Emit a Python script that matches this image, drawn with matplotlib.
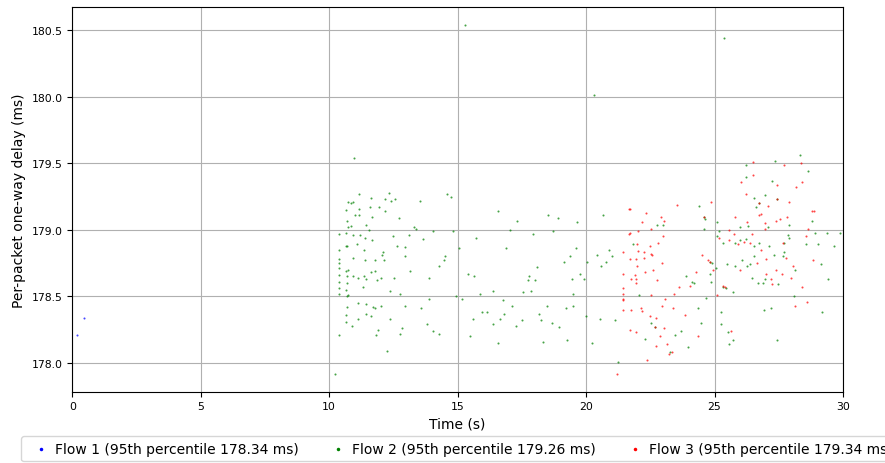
import matplotlib
matplotlib.use("Agg")
import matplotlib.pyplot as plt
import numpy as np

# ---------------- data ----------------
flow1_time = [0.18, 0.44]
flow1_delay = [178.21, 178.34]

flow2_time = [
    10.95, 11.16, 12.31, 14.58, 14.74, 11.64, 12.16, 12.42, 12.55, 13.55,
    10.74, 10.86, 10.92, 10.64, 11.16, 11.57, 11.92, 12.16, 10.99, 11.16,
    11.68, 12.70, 10.70, 11.44, 10.74, 10.86, 13.32, 13.38, 11.55, 14.03,
    14.81, 10.40, 10.64, 10.92, 11.18, 11.38, 12.48, 13.09, 13.64, 11.68,
    10.64, 10.70, 11.09, 12.64, 12.97, 15.71, 15.04, 10.40, 11.34, 12.09,
    12.05, 14.52, 10.92, 10.40, 11.38, 11.77, 12.12, 12.97, 14.48, 10.40,
    10.40, 14.26, 10.73, 10.64, 11.77, 11.64, 13.16, 10.40, 10.92, 10.70,
    11.12, 11.35, 11.42, 12.03, 12.51, 11.87, 13.87, 15.39, 15.65, 10.40,
    10.70, 11.31, 10.40, 10.66, 10.40, 10.70, 10.74, 12.35, 12.74, 13.87,
    15.17, 15.87, 16.39, 11.12, 11.42, 10.70, 11.70, 11.79, 12.00, 12.94,
    13.57, 10.66, 11.42, 11.61, 11.14, 12.38, 10.66, 10.90, 13.81, 15.94,
    16.13, 15.61, 16.36, 11.90, 12.84, 14.06, 14.29, 12.77, 11.83, 10.40,
    15.48, 16.58, 12.26, 14.94,
    16.59, 17.32, 18.53, 18.91, 19.66, 20.66, 17.04, 17.95, 18.73, 16.89,
    19.60, 20.43, 19.38, 19.14, 20.05, 20.77, 20.57, 18.09, 19.77, 17.78,
    19.44, 19.90, 17.73, 18.02, 17.56, 17.86, 19.51, 16.78, 17.11, 18.47,
    19.49, 19.21, 18.17, 16.82, 16.65, 17.51, 18.25, 18.69, 18.95, 17.26,
    20.00, 20.53, 18.31, 19.27, 20.22,
    28.33, 27.36, 26.23, 28.62, 26.23, 27.23, 26.97, 26.54, 26.74, 26.62,
    27.43, 24.39, 24.60, 24.62, 25.09, 22.78, 23.00, 27.88, 28.79, 26.00,
    26.31, 24.60, 27.10, 25.17, 28.92, 29.37, 29.88, 27.87, 27.91, 25.10,
    26.00, 25.80, 26.23, 25.34, 26.52, 26.74, 27.14, 27.70, 28.57, 29.01,
    29.66, 21.84, 20.89, 20.99, 26.52, 27.32, 27.71, 27.65, 24.81, 24.91,
    25.04, 26.08, 25.48, 25.80, 26.28, 26.40, 28.14, 29.14, 23.90, 24.13,
    24.20, 24.81, 24.88, 26.47, 26.97, 26.69, 26.88, 27.46, 25.34, 25.43,
    25.71, 29.42, 22.07, 24.68, 28.10, 21.12, 24.36, 24.46, 25.26, 25.27,
    26.91, 27.19, 29.20, 22.51, 22.70, 23.68, 23.46, 22.29, 25.54, 25.56,
    25.71, 27.43, 23.96, 23.25, 21.23,
    10.22, 15.29, 20.32, 25.37,
]
flow2_delay = [
    179.54, 179.27, 179.28, 179.27, 179.25, 179.24, 179.23, 179.22, 179.23, 179.22,
    179.21, 179.20, 179.21, 179.15, 179.16, 179.17, 179.17, 179.14, 179.11, 179.11,
    179.10, 179.09, 179.07, 179.04, 179.02, 179.03, 179.02, 179.01, 179.00, 178.99,
    178.99, 178.97, 178.98, 178.96, 178.96, 178.94, 178.95, 178.96, 178.93, 178.92,
    178.88, 178.88, 178.89, 178.88, 178.87, 178.94, 178.86, 178.85, 178.85, 178.83,
    178.81, 178.80, 178.79, 178.78, 178.77, 178.77, 178.77, 178.80, 178.77, 178.75,
    178.71, 178.73, 178.70, 178.69, 178.69, 178.68, 178.69, 178.66, 178.65, 178.65,
    178.64, 178.65, 178.63, 178.64, 178.64, 178.62, 178.64, 178.67, 178.65, 178.61,
    178.60, 178.57, 178.56, 178.55, 178.52, 178.50, 178.51, 178.54, 178.52, 178.48,
    178.48, 178.52, 178.54, 178.45, 178.44, 178.42, 178.42, 178.41, 178.43, 178.43,
    178.41, 178.36, 178.37, 178.35, 178.33, 178.33, 178.31, 178.28, 178.29, 178.38,
    178.38, 178.33, 178.29, 178.25, 178.26, 178.24, 178.22, 178.22, 178.21, 178.21,
    178.20, 178.15, 178.09, 178.50,
    179.14, 179.07, 179.11, 179.09, 179.06, 179.11, 179.00, 178.97, 178.99, 178.86,
    178.86, 178.81, 178.80, 178.76, 178.76, 178.76, 178.73, 178.72, 178.67, 178.65,
    178.63, 178.63, 178.62, 178.62, 178.53, 178.54, 178.52, 178.47, 178.43, 178.43,
    178.43, 178.41, 178.37, 178.37, 178.33, 178.32, 178.32, 178.30, 178.27, 178.28,
    178.35, 178.33, 178.16, 178.17, 178.15,
    179.56, 179.52, 179.49, 179.44, 179.40, 179.37, 179.26, 179.24, 179.20, 179.17,
    179.23, 179.18, 179.10, 179.08, 179.06, 179.04, 179.04, 179.04, 179.07, 179.02,
    179.03, 179.01, 179.02, 178.99, 178.98, 178.98, 178.98, 178.96, 178.94, 178.95,
    178.92, 178.90, 178.93, 178.90, 178.88, 178.90, 178.88, 178.90, 178.89, 178.89,
    178.88, 178.89, 178.85, 178.80, 178.80, 178.81, 178.83, 178.80, 178.76, 178.75,
    178.71, 178.77, 178.74, 178.73, 178.73, 178.74, 178.70, 178.74, 178.65, 178.61,
    178.60, 178.67, 178.61, 178.64, 178.63, 178.60, 178.60, 178.59, 178.57, 178.56,
    178.53, 178.63, 178.51, 178.49, 178.50, 178.32, 178.41, 178.30, 178.38, 178.29,
    178.40, 178.41, 178.38, 178.30, 178.27, 178.24, 178.21, 178.18, 178.23, 178.14,
    178.17, 178.17, 178.12, 178.08, 178.01,
    177.92, 180.54, 180.01, 180.44,
]

flow3_time = [
    26.50, 27.71, 28.35, 26.50, 26.04, 27.45, 28.41, 28.16, 26.23, 27.45,
    27.91, 26.75, 24.87, 23.55, 21.68, 21.72, 22.35, 22.92, 23.04, 22.16,
    25.79, 26.79, 26.75, 27.10, 24.58, 26.28, 26.98, 27.39, 27.56, 27.84,
    28.79, 28.88, 22.51, 22.03, 21.72, 21.69, 26.98, 28.64, 25.56, 23.00,
    25.77, 26.45, 25.17, 28.58, 22.81, 21.97, 22.48, 25.56, 25.91, 26.15,
    26.37, 26.79, 27.66, 21.43, 22.04, 22.25, 22.51, 22.57, 24.52, 21.72,
    21.94, 22.25, 22.94, 24.75, 24.83, 27.01, 27.79, 28.84, 22.00, 22.61,
    22.29, 21.43, 21.90, 24.29, 24.96, 26.01, 26.65, 27.40, 27.62, 28.07,
    21.74, 21.94, 21.94, 22.77, 27.01, 27.19, 27.23, 27.96, 21.43, 24.05,
    23.61, 25.32, 25.39, 28.39, 21.43, 22.51, 23.44, 25.10, 21.43, 21.45,
    23.09, 28.61, 28.14, 22.94, 23.39, 21.45, 21.74, 22.12, 22.16, 23.85,
    22.48, 22.72, 22.70, 23.04, 21.72, 21.93, 25.65, 22.86, 24.36, 23.16,
    22.74, 23.33, 23.22, 22.39, 21.21,
]
flow3_delay = [
    179.51, 179.49, 179.50, 179.41, 179.36, 179.34, 179.36, 179.32, 179.27, 179.23,
    179.21, 179.20, 179.21, 179.19, 179.16, 179.16, 179.13, 179.10, 179.07, 179.06,
    179.10, 179.12, 179.11, 179.18, 179.10, 179.06, 179.05, 179.07, 179.08, 179.10,
    179.14, 179.14, 179.01, 178.99, 178.98, 178.97, 179.01, 179.01, 179.00, 178.95,
    178.97, 178.97, 178.94, 178.95, 178.90, 178.89, 178.88, 178.92, 178.89, 178.91,
    178.90, 178.85, 178.90, 178.83, 178.84, 178.83, 178.82, 178.81, 178.81, 178.78,
    178.78, 178.79, 178.75, 178.77, 178.76, 178.78, 178.79, 178.77, 178.73, 178.70,
    178.68, 178.67, 178.66, 178.68, 178.70, 178.70, 178.75, 178.70, 178.67, 178.73,
    178.63, 178.63, 178.60, 178.62, 178.67, 178.63, 178.59, 178.64, 178.56, 178.58,
    178.57, 178.58, 178.57, 178.57, 178.52, 178.51, 178.52, 178.51, 178.48, 178.47,
    178.48, 178.46, 178.43, 178.43, 178.41, 178.40, 178.40, 178.41, 178.39, 178.36,
    178.35, 178.34, 178.27, 178.26, 178.25, 178.23, 178.24, 178.20, 178.20, 178.14,
    178.13, 178.08, 178.07, 178.02, 177.92,
]

flow_labels = [
    "Flow 1 (95th percentile 178.34 ms)",
    "Flow 2 (95th percentile 179.26 ms)",
    "Flow 3 (95th percentile 179.34 ms)",
]
flow_colors = ["#0000ff", "#008000", "#ff0000"]

x_ticks = [0, 5, 10, 15, 20, 25, 30]
y_ticks = [178.0, 178.5, 179.0, 179.5, 180.0, 180.5]

# ---------------- figure ----------------
fig = plt.figure(figsize=(8.85, 4.64), dpi=100)
ax = fig.add_axes([0.0817, 0.1537, 0.8708, 0.8284])

series = [(flow1_time, flow1_delay), (flow2_time, flow2_delay), (flow3_time, flow3_delay)]
for (t, d), lab, col in zip(series, flow_labels, flow_colors):
    ax.scatter(t, d, s=2.2, marker="o", linewidths=0, color=col, alpha=0.72, label=lab)

ax.set_xlim(0, 30)
ax.set_ylim(177.784, 180.672)
ax.set_xticks(x_ticks)
ax.set_yticks(y_ticks)
ax.set_yticklabels([f"{v:.1f}" for v in y_ticks])
ax.tick_params(labelsize=7.8)
ax.grid(True, color="#b0b0b0", linewidth=0.8)
ax.set_axisbelow(True)

ax.set_xlabel("Time (s)", fontsize=10)
ax.set_ylabel("Per-packet one-way delay (ms)", fontsize=10)

leg = ax.legend(loc="upper center", bbox_to_anchor=(0.503, -0.116), borderaxespad=0,
                ncol=3, fontsize=10, scatterpoints=1, markerscale=1.7,
                handletextpad=0.0, columnspacing=1.85, handlelength=2.0)
for h in leg.legend_handles:
    h.set_alpha(1.0)

fig.savefig("out.png", dpi=100)
